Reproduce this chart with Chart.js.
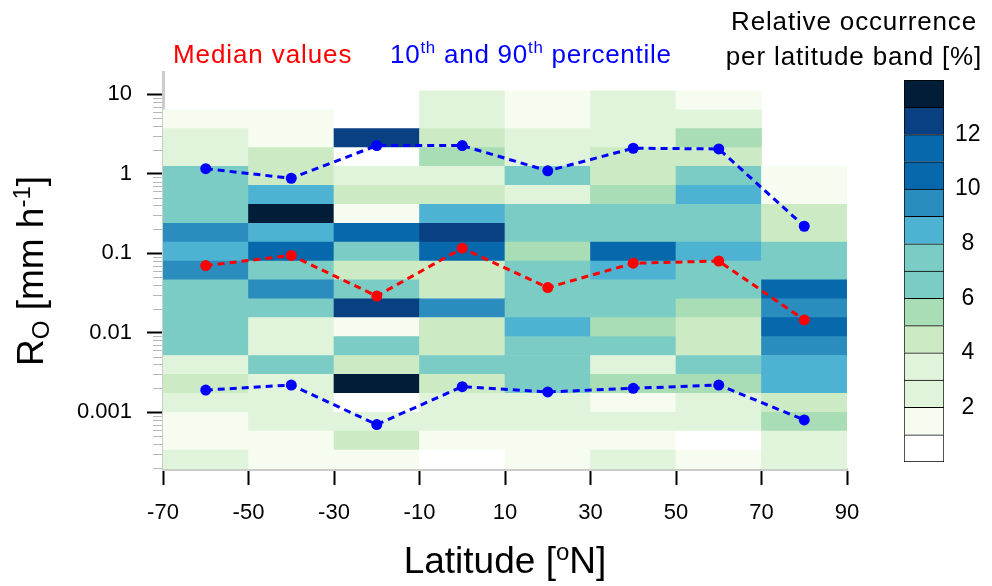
<!DOCTYPE html>
<html>
<head>
<meta charset="utf-8">
<script src="https://cdn.jsdelivr.net/npm/chart.js@4.4.1/dist/chart.umd.min.js"></script>
<style>
body { margin: 0; background: #fff; }
#wrap { position: relative; width: 992px; height: 586px; font-family: "Liberation Sans", Arial, sans-serif; }
canvas { position: absolute; }
.lbl { position: absolute; white-space: nowrap; }
sup, sub { font-size: 65%; line-height: 0; }
</style>
</head>
<body>
<div id="wrap">
  <canvas id="main" width="992" height="586" style="left:0;top:0"></canvas>
  <canvas id="cbar" width="96" height="402" style="left:896px;top:70px"></canvas>

  <div class="lbl" style="left:173px;top:41px;font-size:26px;line-height:26px;letter-spacing:0.9px;color:#ff0000">Median values</div>
  <div class="lbl" style="left:390px;top:41px;font-size:26px;line-height:26px;letter-spacing:0.75px;color:#0000ff">10<sup>th</sup> and 90<sup>th</sup> percentile</div>

  <div class="lbl" style="left:700px;top:4px;width:308px;text-align:center;font-size:26px;line-height:35px;letter-spacing:0.85px;color:#000">Relative occurrence<br>per latitude band [%]</div>

  <div class="lbl" style="left:305px;top:542px;width:400px;text-align:center;font-size:37px;line-height:37px;color:#000">Latitude [<sup>o</sup>N]</div>

  <div class="lbl" style="left:-119px;top:251px;width:300px;height:40px;text-align:center;font-size:37px;line-height:40px;color:#000;transform:rotate(-90deg)">R<sub style="vertical-align:-0.25em">O</sub> [mm h<sup>-1</sup>]</div>
</div>

<script>
// latitude bands (centres, 20 deg wide)
const latCenters = [-60, -40, -20, 0, 20, 40, 60, 80];

// rain rate bin edges [mm/h], log spaced
const rainEdges = [0.000193, 0.000334, 0.000578, 0.001, 0.00173, 0.00299, 0.00517, 0.00894,
  0.0155, 0.0267, 0.0463, 0.0800, 0.138, 0.239, 0.414, 0.715, 1.24, 2.14, 3.70, 6.40, 11.06, 19.13];

// relative occurrence [%] per band, from the lowest rain bin upwards
const occ_m60 = [2.5, 1.5, 1.5, 2.6, 4.4, 2.8, 6.9, 7.2, 6.8, 7.1, 9.4, 8.6, 9.3, 6.7, 7.3, 6.6, 2.9, 2.4, 1.3];
const occ_m40 = [1.2, 1.6, 2.4, 2.7, 2.5, 6.6, 2.8, 2.3, 7.1, 9.6, 6.8, 10.7, 8.4, 13.6, 8.6, 4.3, 4.6, 1.8, 1.4];
const occ_m20 = [1.4, 4.2, 2.6, 0.6, 13.8, 4.4, 6.9, 1.7, 12.4, 7.2, 4.7, 6.6, 11.2, 1.6, 4.5, 2.7, 0.4, 12.6];
const occ_0   = [0.7, 1.5, 2.6, 2.8, 4.6, 6.8, 4.3, 4.8, 9.7, 4.4, 4.5, 10.4, 12.7, 8.3, 4.6, 2.9, 5.4, 4.2, 2.3, 2.1];
const occ_20  = [1.6, 1.7, 2.5, 2.8, 7.1, 6.7, 7.3, 8.2, 7.0, 6.9, 7.4, 5.6, 6.8, 7.2, 2.6, 6.4, 2.8, 2.2, 1.6, 1.3];
const occ_40  = [2.3, 1.8, 2.9, 1.4, 5.3, 2.6, 6.8, 5.7, 7.2, 6.9, 8.6, 10.8, 6.7, 7.1, 5.4, 4.3, 4.7, 2.4, 2.8, 2.2];
const occ_60  = [1.2, 0.5, 2.7, 2.4, 5.6, 7.3, 4.5, 4.2, 5.8, 6.9, 7.2, 8.4, 6.6, 7.0, 8.7, 6.8, 4.4, 5.6, 2.6, 1.4];
const occ_80  = [2.8, 2.4, 5.6, 4.6, 8.7, 8.3, 9.5, 10.9, 9.6, 11.3, 7.4, 6.6, 4.7, 4.2, 1.6, 1.2];

// statistics per band [mm/h]
const medianRate = [0.070, 0.094, 0.029, 0.116, 0.037, 0.075, 0.080, 0.0145];
const p90Rate    = [1.16, 0.88, 2.27, 2.27, 1.09, 2.10, 2.06, 0.219];
const p10Rate    = [0.0019, 0.0022, 0.0007, 0.0021, 0.0018, 0.0020, 0.0022, 0.0008];

const yTickVals   = [0.001, 0.01, 0.1, 1, 10];
const yTickLabels = ['0.001', '0.01', '0.1', '1', '10'];
const cbarTicks   = [2, 4, 6, 8, 10, 12];

// one colour per 1 % step (0-1, 1-2, ... 13-14)
const levelColors = ['#ffffff', '#f7fcf0', '#e0f3db', '#e0f3db', '#ccebc5', '#a8ddb5', '#7bccc4',
  '#7bccc4', '#4eb3d3', '#2b8cbe', '#0868ac', '#0868ac', '#084081', '#021d38'];

function colorFor(v) {
  return levelColors[Math.min(levelColors.length - 1, Math.floor(v))];
}

const columns = [occ_m60, occ_m40, occ_m20, occ_0, occ_20, occ_40, occ_60, occ_80];

// one floating-bar dataset per rain bin
const heatSets = [];
for (let k = 0; k < rainEdges.length - 1; k++) {
  const pts = [], cols = [];
  columns.forEach((col, i) => {
    const v = col[k];
    if (v == null) return;
    pts.push({ x: latCenters[i], y: [rainEdges[k], rainEdges[k + 1]] });
    cols.push(colorFor(v));
  });
  if (pts.length) {
    heatSets.push({
      type: 'bar', data: pts, backgroundColor: cols, borderWidth: 0,
      grouped: false, barPercentage: 1, categoryPercentage: 1, order: 2
    });
  }
}

function lineSet(vals, color) {
  return {
    type: 'line',
    data: latCenters.map((x, i) => ({ x: x, y: vals[i] })),
    borderColor: color, backgroundColor: color, pointBackgroundColor: color,
    borderWidth: 3, borderDash: [7, 5], pointRadius: 5.5, pointBorderWidth: 0,
    tension: 0, fill: false, order: 0
  };
}

const minorTicks = {
  id: 'minorTicks',
  afterDraw(chart) {
    const y = chart.scales.y, ctx = chart.ctx, x0 = chart.chartArea.left - 1;
    ctx.save();
    ctx.strokeStyle = '#b8b8b8';
    ctx.lineWidth = 1;
    for (let d = -4; d <= 1; d++) {
      for (let m = 2; m <= 9; m++) {
        const v = m * Math.pow(10, d);
        if (v < y.min || v > y.max) continue;
        const py = Math.round(y.getPixelForValue(v)) + 0.5;
        ctx.beginPath(); ctx.moveTo(x0 - 9, py); ctx.lineTo(x0, py); ctx.stroke();
      }
    }
    ctx.restore();
  }
};

new Chart('main', {
  type: 'bar',
  data: { datasets: heatSets.concat([lineSet(medianRate, '#ff0000'), lineSet(p90Rate, '#0000ff'), lineSet(p10Rate, '#0000ff')]) },
  options: {
    responsive: false, animation: false, devicePixelRatio: 1,
    layout: { padding: { left: 0, top: 72, right: 145, bottom: 0 } },
    plugins: { legend: { display: false }, tooltip: { enabled: false } },
    scales: {
      x: {
        type: 'linear', min: -70, max: 90, offset: false,
        ticks: { stepSize: 20, color: '#000', font: { family: '"Liberation Sans", Arial, sans-serif', size: 22 }, padding: 15, maxRotation: 0 },
        grid: { offset: false, drawOnChartArea: false, tickLength: 16, tickColor: '#000', tickWidth: 2 },
        border: { color: '#cccccc', width: 3 },
        afterFit(s) { s.height = 117; }
      },
      y: {
        type: 'logarithmic', min: rainEdges[0], max: rainEdges[rainEdges.length - 1],
        afterBuildTicks(s) { s.ticks = yTickVals.map(v => ({ value: v })); },
        ticks: { autoSkip: false, color: '#000', font: { family: '"Liberation Sans", Arial, sans-serif', size: 22 }, padding: 15,
          callback: (v, i) => yTickLabels[i] },
        grid: { drawOnChartArea: false, tickLength: 16, tickColor: '#000', tickWidth: 2 },
        border: { color: '#cccccc', width: 3 },
        afterFit(s) { s.width = 163; }
      }
    }
  },
  plugins: [minorTicks]
});

// colour bar
new Chart('cbar', {
  type: 'bar',
  data: {
    labels: [''],
    datasets: levelColors.map((c, i) => ({
      data: [1], backgroundColor: c, borderColor: '#000', borderWidth: 1,
      borderSkipped: i === 0 ? false : 'start', barPercentage: 1, categoryPercentage: 1
    }))
  },
  options: {
    responsive: false, animation: false, devicePixelRatio: 1,
    layout: { padding: { left: 8, top: 10, bottom: 10, right: 0 } },
    plugins: { legend: { display: false }, tooltip: { enabled: false } },
    scales: {
      x: { display: false, stacked: true },
      y: {
        stacked: true, position: 'right', min: 0, max: levelColors.length,
        grid: { display: false, drawTicks: false }, border: { display: false },
        ticks: { stepSize: 2, color: '#000', font: { family: '"Liberation Sans", Arial, sans-serif', size: 23 }, crossAlign: 'center', padding: 11,
          callback: v => cbarTicks.includes(v) ? String(v) : '' },
        afterFit(s) { s.width = 48; s.paddingTop = 0; s.paddingBottom = 0; }
      }
    }
  }
});
</script>
</body>
</html>
